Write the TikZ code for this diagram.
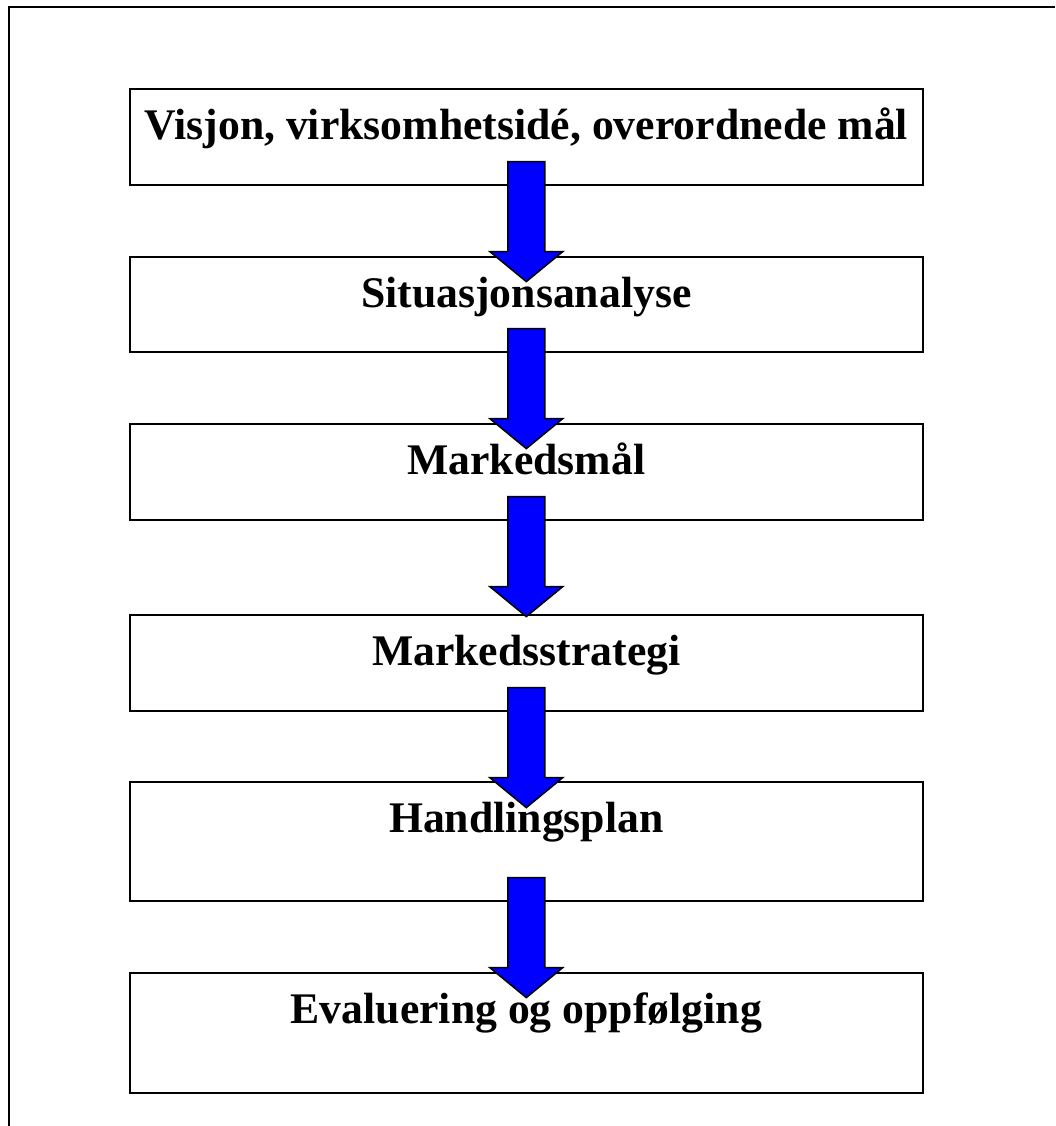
\documentclass[tikz,border=0pt]{standalone}
\usepackage{fontspec}
\setmainfont{Liberation Serif}
\usetikzlibrary{calc}

\begin{document}
\begin{tikzpicture}[x=1pt, y=-1pt,
    stepbox/.style={draw=borderColour, line width=1.6pt, minimum width=793pt,
        inner sep=0pt, text height=51pt, anchor=north west,
        font=\fontsize{43.7}{50}\selectfont\bfseries},
    blockArrow/.style={fill=arrowColour, draw=borderColour, line width=1.5pt, line join=miter}]
    % Define page size
    \def\pageWidth{1055}
    \def\pageHeight{1126}

    \definecolor{borderColour}{HTML}{000000}
    \definecolor{arrowColour}{HTML}{0000FF}

    % Fix the page
    \useasboundingbox (0,0) rectangle (\pageWidth,\pageHeight);

    % Draw outer frame
    \draw[line width=1.6pt, draw=borderColour] (\pageWidth,7) -- (9,7) -- (9,\pageHeight);

    % Draw the steps
    \node[stepbox, minimum height=96pt,  text depth=45pt] (box1) at (129,88)  {Visjon, virksomhetsidé, overordnede mål};
    \node[stepbox, minimum height=95pt,  text depth=44pt] (box2) at (129,256) {Situasjonsanalyse};
    \node[stepbox, minimum height=96pt,  text depth=45pt] (box3) at (129,423) {Markedsmål};
    \node[stepbox, minimum height=96pt,  text depth=45pt] (box4) at (129,614) {Markedsstrategi};
    \node[stepbox, minimum height=119pt, text depth=68pt] (box5) at (129,781) {Handlingsplan};
    \node[stepbox, minimum height=120pt, text depth=69pt] (box6) at (129,972) {Evaluering og oppfølging};

    % Draw the block arrows between the steps
    \foreach \i [evaluate=\i as \j using int(\i+1)] in {1,...,5} {
        \coordinate (start\i) at ($(box\i.south)+(0,-24)$);
        \draw[blockArrow] (start\i) ++(-18.5,0) -- ++(0,90) -- ++(-18,0)
            -- ++(36.5,30) coordinate (tip\j) -- ++(36.5,-30) -- ++(-18,0) -- ++(0,-90) -- cycle;
    }

\end{tikzpicture}
\end{document}
